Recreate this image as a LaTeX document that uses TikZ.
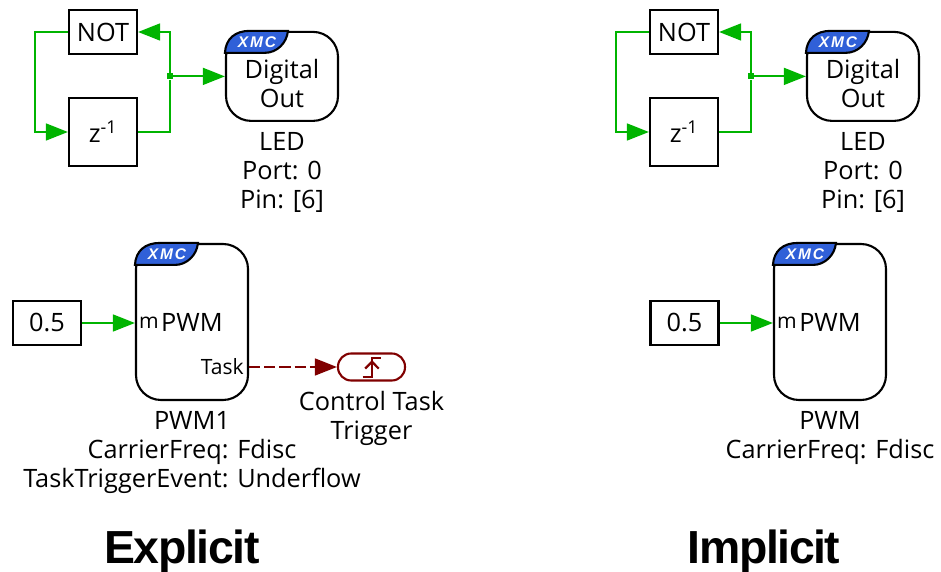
\documentclass[tikz,border=0pt]{standalone}
\usepackage{fontspec}
\setmainfont{Open Sans}
\newfontfamily\xmcfont[LetterSpace=12]{Liberation Sans}
\newfontfamily\titlefont[LetterSpace=-3]{Liberation Sans}
\usetikzlibrary{arrows.meta}
\definecolor{plecsgreen}{RGB}{0,180,0}
\definecolor{xmcblue}{RGB}{48,96,216}
\definecolor{taskred}{RGB}{128,0,0}

\tikzset{
  gatebox/.style={draw=black,line width=1.5pt,inner sep=0,font=\fontsize{18}{20.6}\selectfont},
  xmcbox/.style={gatebox,rounded corners=.625cm,minimum width=2.8cm,align=center},
  blocklabel/.style={anchor=north,align=center,inner sep=0,yshift=-.26cm,font=\fontsize{18}{20.6}\selectfont},
  portlabel/.style={inner sep=0,font=\fontsize{15}{17}\selectfont},
  bigtitle/.style={inner sep=0,font=\fontsize{33}{36}\titlefont\bfseries},
  signal/.style={draw=plecsgreen,line width=1.5pt},
  signalarrow/.style={signal,-{Triangle[length=.55cm,width=.42cm]}}
}

% Blue corner of a block
\newcommand{\xmctab}[1]{
  \begin{scope}[shift={(#1.north west)}]
    \filldraw[fill=xmcblue,draw=black,line width=1.5pt] (0,-.55) .. controls (.02,-.2) and (.25,0) .. (.625,0) -- (1.575,0) .. controls (1.55,-.3) and (1.3,-.55) .. (1,-.55) -- cycle;
    \node[text=white,inner sep=0,font=\fontsize{11}{12}\xmcfont\bfseries\itshape] (#1tab) at (.8,-.275) {XMC};
  \end{scope}
}

\begin{document}
\begin{tikzpicture}

\useasboundingbox (0,0) rectangle (23.525,14.3);

% Explicit: toggling LED
\node[gatebox,minimum width=1.7cm,minimum height=1.1cm] (notl) at (2.575,13.5) {NOT};
\node[gatebox,minimum width=1.7cm,minimum height=1.7cm] (zinvl) at (2.575,11) {z\textsuperscript{-1}};
\node[xmcbox,minimum height=2.225cm] (digl) at (7.05,12.39) {\\[.1cm]Digital\\Out};
\xmctab{digl}
\node[blocklabel] (ledl) at (digl.south) {LED\\Port: 0\\Pin: [6]};

\node[fill=plecsgreen,inner sep=0,minimum size=.15cm] (juncl) at (4.25,12.39) {};
\coordinate (bendl) at (.875,12.39);

\draw[signalarrow] (zinvl.east) -| (juncl) |- (notl.east);
\draw[signalarrow] (notl.west) -| (bendl) |- (zinvl.west);
\draw[signalarrow] (juncl) -- (digl.west);

% Explicit: PWM
\node[xmcbox,minimum height=3.9cm] (pwml) at (4.8,6.25) {PWM};
\xmctab{pwml}
\node[blocklabel] (pwmtextl) at (pwml.south) {PWM1\\CarrierFreq: Fdisc\\TaskTriggerEvent: Underflow};
\node[gatebox,minimum width=1.7cm,minimum height=1.1cm] (constl) at (1.175,6.225) {0.5};
\node[portlabel] (portml) at (3.725,6.225) {m};
\node[portlabel,anchor=east] (porttask) at (6.1,5.125) {Task};
\draw[signalarrow] (constl.east) -- (pwml.west |- constl.east);

% Task trigger
\node[draw=taskred,line width=1.5pt,rounded corners=.33cm,minimum width=1.675cm,minimum height=.675cm,inner sep=0] (trig) at (9.2875,5.125) {};
\begin{scope}[shift={(trig.center)}]
  \draw[taskred,line width=1.6pt] (-.22,-.25) -- (.0125,-.25) -- (.0125,.22) -- (.23,.22);
  \draw[taskred,line width=1.6pt] (-.16,-.04) -- (.0125,.13) -- (.18,-.04);
\end{scope}
\node[blocklabel,yshift=.02cm] (trigtext) at (trig.south) {Control Task\\Trigger};
\draw[taskred,line width=1.5pt,dash pattern=on .28cm off .1cm,-{Triangle[length=.55cm,width=.42cm]}] (pwml.east |- trig.west) -- (trig.west);

% Implicit: toggling LED
\node[gatebox,minimum width=1.7cm,minimum height=1.1cm] (notr) at (17.1,13.5) {NOT};
\node[gatebox,minimum width=1.7cm,minimum height=1.7cm] (zinvr) at (17.1,11) {z\textsuperscript{-1}};
\node[xmcbox,minimum height=2.225cm] (digr) at (21.575,12.39) {\\[.1cm]Digital\\Out};
\xmctab{digr}
\node[blocklabel] (ledr) at (digr.south) {LED\\Port: 0\\Pin: [6]};

\node[fill=plecsgreen,inner sep=0,minimum size=.15cm] (juncr) at (18.775,12.39) {};
\coordinate (bendr) at (15.4,12.39);

\draw[signalarrow] (zinvr.east) -| (juncr) |- (notr.east);
\draw[signalarrow] (notr.west) -| (bendr) |- (zinvr.west);
\draw[signalarrow] (juncr) -- (digr.west);

% Implicit: PWM
\node[xmcbox,minimum height=3.9cm] (pwmr) at (20.75,6.25) {PWM};
\xmctab{pwmr}
\node[blocklabel] (pwmtextr) at (pwmr.south) {PWM\\CarrierFreq: Fdisc};
\node[gatebox,minimum width=1.7cm,minimum height=1.1cm] (constr) at (17.1125,6.225) {0.5};
\node[portlabel] (portmr) at (19.675,6.225) {m};
\draw[signalarrow] (constr.east) -- (pwmr.west |- constr.east);

% Titles
\node[bigtitle] (explicit) at (4.55,.5) {Explicit};
\node[bigtitle] (implicit) at (19.1,.5) {Implicit};

\end{tikzpicture}
\end{document}
